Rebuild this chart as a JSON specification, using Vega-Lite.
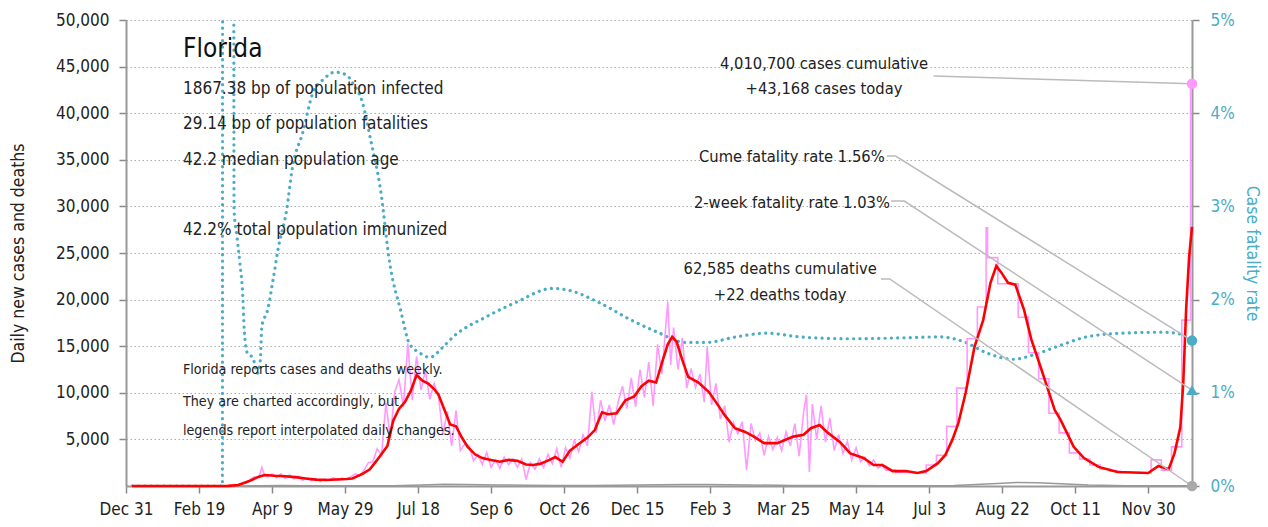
{
"$schema": "https://vega.github.io/schema/vega-lite/v6.json",
"width": 1066, "height": 466,
"autosize": {"type": "none"},
"padding": {"left": 126, "top": 20, "right": 76, "bottom": 41},
"background": "white",
"config": {"font": "DejaVu Sans Condensed, sans-serif", "view": {"stroke": null}},
"datasets": {
"red": [{"d":"2020-01-04","v":0},{"d":"2020-03-01","v":0},{"d":"2020-03-10","v":10},{"d":"2020-03-17","v":100},{"d":"2020-03-24","v":500},{"d":"2020-03-31","v":1000},{"d":"2020-04-04","v":1180},{"d":"2020-04-11","v":1100},{"d":"2020-04-18","v":1050},{"d":"2020-04-25","v":950},{"d":"2020-05-02","v":800},{"d":"2020-05-09","v":680},{"d":"2020-05-16","v":650},{"d":"2020-05-23","v":700},{"d":"2020-05-30","v":750},{"d":"2020-06-03","v":800},{"d":"2020-06-10","v":1300},{"d":"2020-06-15","v":1800},{"d":"2020-06-20","v":2800},{"d":"2020-06-27","v":4300},{"d":"2020-07-01","v":7000},{"d":"2020-07-05","v":8300},{"d":"2020-07-09","v":9000},{"d":"2020-07-13","v":10200},{"d":"2020-07-17","v":11900},{"d":"2020-07-21","v":11300},{"d":"2020-07-25","v":11000},{"d":"2020-07-29","v":10400},{"d":"2020-08-01","v":9800},{"d":"2020-08-05","v":8200},{"d":"2020-08-09","v":6600},{"d":"2020-08-13","v":6400},{"d":"2020-08-17","v":5200},{"d":"2020-08-21","v":4200},{"d":"2020-08-26","v":3400},{"d":"2020-08-31","v":3000},{"d":"2020-09-06","v":2800},{"d":"2020-09-12","v":2600},{"d":"2020-09-18","v":2800},{"d":"2020-09-24","v":2700},{"d":"2020-09-30","v":2300},{"d":"2020-10-05","v":2250},{"d":"2020-10-10","v":2400},{"d":"2020-10-16","v":2800},{"d":"2020-10-20","v":3100},{"d":"2020-10-25","v":2600},{"d":"2020-10-30","v":3800},{"d":"2020-11-05","v":4500},{"d":"2020-11-11","v":5200},{"d":"2020-11-16","v":6000},{"d":"2020-11-21","v":7900},{"d":"2020-11-25","v":7700},{"d":"2020-12-01","v":7800},{"d":"2020-12-07","v":9200},{"d":"2020-12-13","v":9600},{"d":"2020-12-18","v":10700},{"d":"2020-12-23","v":11300},{"d":"2020-12-28","v":11100},{"d":"2021-01-01","v":13200},{"d":"2021-01-05","v":15200},{"d":"2021-01-08","v":16000},{"d":"2021-01-11","v":15500},{"d":"2021-01-15","v":13500},{"d":"2021-01-19","v":11700},{"d":"2021-01-26","v":11100},{"d":"2021-02-02","v":10100},{"d":"2021-02-07","v":9000},{"d":"2021-02-13","v":7600},{"d":"2021-02-20","v":6200},{"d":"2021-02-27","v":5800},{"d":"2021-03-05","v":5300},{"d":"2021-03-12","v":4600},{"d":"2021-03-21","v":4600},{"d":"2021-04-01","v":5300},{"d":"2021-04-08","v":5500},{"d":"2021-04-13","v":6200},{"d":"2021-04-19","v":6550},{"d":"2021-04-24","v":5800},{"d":"2021-05-03","v":4700},{"d":"2021-05-10","v":3500},{"d":"2021-05-19","v":3000},{"d":"2021-05-26","v":2250},{"d":"2021-06-01","v":2250},{"d":"2021-06-08","v":1600},{"d":"2021-06-17","v":1600},{"d":"2021-06-25","v":1400},{"d":"2021-07-01","v":1600},{"d":"2021-07-09","v":2450},{"d":"2021-07-14","v":3300},{"d":"2021-07-19","v":5000},{"d":"2021-07-23","v":6750},{"d":"2021-07-28","v":10000},{"d":"2021-08-03","v":14900},{"d":"2021-08-09","v":17800},{"d":"2021-08-14","v":21800},{"d":"2021-08-18","v":23600},{"d":"2021-08-21","v":23000},{"d":"2021-08-26","v":21800},{"d":"2021-08-31","v":21600},{"d":"2021-09-06","v":18900},{"d":"2021-09-11","v":15700},{"d":"2021-09-18","v":12450},{"d":"2021-09-27","v":8150},{"d":"2021-10-01","v":7100},{"d":"2021-10-10","v":4200},{"d":"2021-10-17","v":3000},{"d":"2021-10-27","v":2050},{"d":"2021-11-09","v":1500},{"d":"2021-11-30","v":1400},{"d":"2021-12-07","v":2150},{"d":"2021-12-14","v":1800},{"d":"2021-12-18","v":3500},{"d":"2021-12-22","v":6300},{"d":"2021-12-24","v":11000},{"d":"2021-12-26","v":19000},{"d":"2021-12-28","v":24500},{"d":"2021-12-30","v":27800}],
"pink": [{"d":"2020-03-01","v":2},{"d":"2020-03-04","v":3},{"d":"2020-03-07","v":10},{"d":"2020-03-10","v":20},{"d":"2020-03-13","v":50},{"d":"2020-03-16","v":110},{"d":"2020-03-19","v":300},{"d":"2020-03-22","v":300},{"d":"2020-03-25","v":700},{"d":"2020-03-28","v":1000},{"d":"2020-03-31","v":900},{"d":"2020-04-02","v":2000},{"d":"2020-04-04","v":1100},{"d":"2020-04-06","v":1000},{"d":"2020-04-09","v":1300},{"d":"2020-04-12","v":900},{"d":"2020-04-15","v":1300},{"d":"2020-04-18","v":800},{"d":"2020-04-21","v":1200},{"d":"2020-04-24","v":750},{"d":"2020-04-27","v":1050},{"d":"2020-04-30","v":600},{"d":"2020-05-03","v":900},{"d":"2020-05-06","v":550},{"d":"2020-05-09","v":800},{"d":"2020-05-12","v":500},{"d":"2020-05-15","v":800},{"d":"2020-05-18","v":600},{"d":"2020-05-21","v":900},{"d":"2020-05-24","v":600},{"d":"2020-05-27","v":850},{"d":"2020-05-30","v":700},{"d":"2020-06-02","v":1000},{"d":"2020-06-05","v":1300},{"d":"2020-06-08","v":1100},{"d":"2020-06-11","v":1700},{"d":"2020-06-14","v":2500},{"d":"2020-06-17","v":2600},{"d":"2020-06-20","v":4000},{"d":"2020-06-23","v":3300},{"d":"2020-06-26","v":8900},{"d":"2020-06-29","v":5200},{"d":"2020-07-02","v":10100},{"d":"2020-07-05","v":11400},{"d":"2020-07-08","v":8500},{"d":"2020-07-11","v":15300},{"d":"2020-07-14","v":9200},{"d":"2020-07-17","v":13900},{"d":"2020-07-20","v":10300},{"d":"2020-07-23","v":12400},{"d":"2020-07-26","v":9300},{"d":"2020-07-29","v":11000},{"d":"2020-08-01","v":9600},{"d":"2020-08-04","v":5500},{"d":"2020-08-07","v":8000},{"d":"2020-08-10","v":4300},{"d":"2020-08-13","v":8100},{"d":"2020-08-16","v":3800},{"d":"2020-08-19","v":4500},{"d":"2020-08-22","v":4300},{"d":"2020-08-25","v":2700},{"d":"2020-08-28","v":3400},{"d":"2020-08-31","v":2300},{"d":"2020-09-03","v":3600},{"d":"2020-09-06","v":2000},{"d":"2020-09-09","v":2800},{"d":"2020-09-12","v":1900},{"d":"2020-09-15","v":3100},{"d":"2020-09-18","v":2300},{"d":"2020-09-21","v":2900},{"d":"2020-09-24","v":2000},{"d":"2020-09-27","v":2900},{"d":"2020-09-30","v":700},{"d":"2020-10-03","v":2500},{"d":"2020-10-06","v":1800},{"d":"2020-10-09","v":2900},{"d":"2020-10-12","v":2000},{"d":"2020-10-15","v":3400},{"d":"2020-10-18","v":2400},{"d":"2020-10-21","v":4000},{"d":"2020-10-24","v":2000},{"d":"2020-10-27","v":4100},{"d":"2020-10-30","v":3000},{"d":"2020-11-02","v":4900},{"d":"2020-11-05","v":3700},{"d":"2020-11-08","v":5500},{"d":"2020-11-11","v":4300},{"d":"2020-11-14","v":10100},{"d":"2020-11-17","v":5700},{"d":"2020-11-20","v":9200},{"d":"2020-11-23","v":7000},{"d":"2020-11-26","v":8700},{"d":"2020-11-29","v":6600},{"d":"2020-12-02","v":9000},{"d":"2020-12-05","v":10700},{"d":"2020-12-08","v":8300},{"d":"2020-12-11","v":11600},{"d":"2020-12-14","v":8500},{"d":"2020-12-17","v":12500},{"d":"2020-12-20","v":9500},{"d":"2020-12-23","v":13300},{"d":"2020-12-26","v":8600},{"d":"2020-12-29","v":15200},{"d":"2021-01-01","v":12000},{"d":"2021-01-05","v":19800},{"d":"2021-01-07","v":13000},{"d":"2021-01-09","v":17000},{"d":"2021-01-12","v":12500},{"d":"2021-01-15","v":15900},{"d":"2021-01-18","v":10500},{"d":"2021-01-21","v":12600},{"d":"2021-01-24","v":10600},{"d":"2021-01-27","v":12000},{"d":"2021-01-30","v":9000},{"d":"2021-02-01","v":14900},{"d":"2021-02-04","v":8700},{"d":"2021-02-07","v":11000},{"d":"2021-02-10","v":7200},{"d":"2021-02-13","v":8600},{"d":"2021-02-16","v":4700},{"d":"2021-02-19","v":6800},{"d":"2021-02-22","v":5600},{"d":"2021-02-25","v":6900},{"d":"2021-02-28","v":1700},{"d":"2021-03-03","v":6700},{"d":"2021-03-06","v":4900},{"d":"2021-03-09","v":5700},{"d":"2021-03-12","v":3300},{"d":"2021-03-15","v":5300},{"d":"2021-03-18","v":3900},{"d":"2021-03-21","v":5200},{"d":"2021-03-24","v":3800},{"d":"2021-03-27","v":5800},{"d":"2021-03-30","v":4300},{"d":"2021-04-02","v":6700},{"d":"2021-04-05","v":3200},{"d":"2021-04-08","v":7900},{"d":"2021-04-10","v":9800},{"d":"2021-04-12","v":1500},{"d":"2021-04-14","v":8800},{"d":"2021-04-17","v":5000},{"d":"2021-04-20","v":8600},{"d":"2021-04-23","v":4700},{"d":"2021-04-26","v":7300},{"d":"2021-04-29","v":3800},{"d":"2021-05-02","v":5500},{"d":"2021-05-05","v":3500},{"d":"2021-05-08","v":4800},{"d":"2021-05-11","v":2800},{"d":"2021-05-14","v":4100},{"d":"2021-05-17","v":2600},{"d":"2021-05-20","v":3100},{"d":"2021-05-23","v":2200},{"d":"2021-05-26","v":2800},{"d":"2021-05-29","v":1900},{"d":"2021-06-01","v":2300},{"d":"2021-06-03","v":1700}],
"pinkw": [{"d":"2021-06-03","v":1700},{"d":"2021-06-10","v":1450},{"d":"2021-06-17","v":1450},{"d":"2021-06-24","v":1400},{"d":"2021-07-01","v":2250},{"d":"2021-07-08","v":3300},{"d":"2021-07-15","v":6400},{"d":"2021-07-22","v":10500},{"d":"2021-07-29","v":15800},{"d":"2021-08-05","v":19200},{"d":"2021-08-11","v":27700},{"d":"2021-08-12","v":24500},{"d":"2021-08-19","v":21700},{"d":"2021-08-26","v":21700},{"d":"2021-09-02","v":18100},{"d":"2021-09-09","v":14300},{"d":"2021-09-16","v":11500},{"d":"2021-09-23","v":7800},{"d":"2021-09-30","v":5700},{"d":"2021-10-07","v":3550},{"d":"2021-10-14","v":2900},{"d":"2021-10-21","v":2250},{"d":"2021-10-28","v":1800},{"d":"2021-11-04","v":1600},{"d":"2021-11-11","v":1500},{"d":"2021-11-18","v":1450},{"d":"2021-11-25","v":1400},{"d":"2021-12-02","v":2800},{"d":"2021-12-09","v":1700},{"d":"2021-12-16","v":4200},{"d":"2021-12-23","v":17800},{"d":"2021-12-29","v":43168},{"d":"2021-12-30","v":43168}],
"deaths": [{"d":"2020-01-04","v":0},{"d":"2020-03-15","v":1},{"d":"2020-04-01","v":20},{"d":"2020-04-15","v":50},{"d":"2020-05-01","v":40},{"d":"2020-06-01","v":35},{"d":"2020-07-01","v":40},{"d":"2020-07-20","v":120},{"d":"2020-08-05","v":180},{"d":"2020-08-20","v":150},{"d":"2020-09-10","v":100},{"d":"2020-10-01","v":90},{"d":"2020-10-20","v":60},{"d":"2020-11-15","v":60},{"d":"2020-12-15","v":100},{"d":"2021-01-15","v":160},{"d":"2021-02-01","v":170},{"d":"2021-03-01","v":110},{"d":"2021-04-01","v":60},{"d":"2021-05-01","v":50},{"d":"2021-06-01","v":40},{"d":"2021-07-01","v":30},{"d":"2021-07-20","v":60},{"d":"2021-08-15","v":250},{"d":"2021-09-01","v":380},{"d":"2021-09-15","v":350},{"d":"2021-10-01","v":250},{"d":"2021-10-20","v":120},{"d":"2021-11-15","v":40},{"d":"2021-12-01","v":20},{"d":"2021-12-30","v":22}],
"cfr": [{"d":"2019-12-31","r":0},{"d":"2020-03-06","r":0},{"d":"2020-03-07","r":1.0},{"d":"2020-03-12","r":1.0},{"d":"2020-03-14","r":0.0296},{"d":"2020-03-16","r":0.0267},{"d":"2020-03-18","r":0.0239},{"d":"2020-03-20","r":0.0203},{"d":"2020-03-21","r":0.0167},{"d":"2020-03-23","r":0.0143},{"d":"2020-03-27","r":0.0137},{"d":"2020-03-30","r":0.0121},{"d":"2020-04-01","r":0.0135},{"d":"2020-04-02","r":0.0171},{"d":"2020-04-06","r":0.0189},{"d":"2020-04-10","r":0.0224},{"d":"2020-04-13","r":0.0253},{"d":"2020-04-19","r":0.0296},{"d":"2020-04-23","r":0.0342},{"d":"2020-04-30","r":0.0379},{"d":"2020-05-07","r":0.0422},{"d":"2020-05-14","r":0.0436},{"d":"2020-05-22","r":0.0444},{"d":"2020-05-30","r":0.0441},{"d":"2020-06-03","r":0.0433},{"d":"2020-06-10","r":0.0411},{"d":"2020-06-16","r":0.0368},{"d":"2020-06-22","r":0.0321},{"d":"2020-06-29","r":0.0235},{"d":"2020-07-06","r":0.0189},{"d":"2020-07-12","r":0.0153},{"d":"2020-07-19","r":0.0143},{"d":"2020-07-26","r":0.0138},{"d":"2020-08-04","r":0.0149},{"d":"2020-08-11","r":0.0160},{"d":"2020-09-02","r":0.0181},{"d":"2020-09-23","r":0.0197},{"d":"2020-10-18","r":0.0212},{"d":"2020-10-29","r":0.0210},{"d":"2020-11-20","r":0.0196},{"d":"2020-12-11","r":0.0178},{"d":"2020-12-29","r":0.0165},{"d":"2021-01-17","r":0.0154},{"d":"2021-01-31","r":0.0154},{"d":"2021-02-21","r":0.0160},{"d":"2021-03-14","r":0.0164},{"d":"2021-04-05","r":0.0160},{"d":"2021-05-10","r":0.0158},{"d":"2021-06-15","r":0.0159},{"d":"2021-07-10","r":0.0160},{"d":"2021-07-28","r":0.0154},{"d":"2021-08-11","r":0.0143},{"d":"2021-08-30","r":0.0136},{"d":"2021-09-13","r":0.0141},{"d":"2021-10-01","r":0.0151},{"d":"2021-10-19","r":0.0160},{"d":"2021-11-12","r":0.0164},{"d":"2021-12-08","r":0.0165},{"d":"2021-12-19","r":0.0164},{"d":"2021-12-30","r":0.0156}],
"conn": [{"g":"c","d":"2021-07-06","v":43991},{"g":"c","d":"2021-12-30","v":43168},{"g":"f","d":"2021-06-04","v":35408},{"g":"f","d":"2021-06-10","v":35408},{"g":"f","d":"2021-12-30","v":15600},{"g":"w","d":"2021-06-07","v":30579},{"g":"w","d":"2021-06-16","v":30579},{"g":"w","d":"2021-12-30","v":10300},{"g":"x","d":"2021-05-31","v":22210},{"g":"x","d":"2021-06-06","v":22210},{"g":"x","d":"2021-12-30","v":0}],
"title": [{"d":"2020-02-08","v":46835,"t":"Florida"}],
"info": [{"d":"2020-02-08","v":42543,"t":"1867.38 bp of population infected"},{"d":"2020-02-08","v":38788,"t":"29.14 bp of population fatalities"},{"d":"2020-02-08","v":35032,"t":"42.2 median population age"},{"d":"2020-02-08","v":27521,"t":"42.2% total population immunized"}],
"notes": [{"d":"2020-02-08","v":12446,"t":"Florida reports cases and deaths weekly."},{"d":"2020-02-08","v":9066,"t":"They are charted accordingly, but"},{"d":"2020-02-08","v":5848,"t":"legends report interpolated daily changes."}],
"ann": [{"d":"2021-04-22","v":45279,"t":"4,010,700 cases cumulative"},{"d":"2021-04-22","v":42543,"t":"+43,168 cases today"},{"d":"2021-03-31","v":35247,"t":"Cume fatality rate 1.56%"},{"d":"2021-03-31","v":30418,"t":"2-week fatality rate 1.03%"},{"d":"2021-03-23","v":23230,"t":"62,585 deaths cumulative"},{"d":"2021-03-23","v":20547,"t":"+22 deaths today"}],
"pinkpt": [{"d":"2021-12-30","v":43168}],
"graypt": [{"d":"2021-12-30","v":0}],
"cfrc": [{"d":"2021-12-30","r":0.0156}],
"cfrt": [{"d":"2021-12-30","r":0.0103}]
},
"encoding": {
"x": {"field": "d", "type": "temporal",
 "scale": {"type": "utc", "domain": [1577750400000, 1640822400000]},
 "axis": {"values": [1577750400000,1582070400000,1586390400000,1590710400000,1595030400000,1599350400000,1603670400000,1607990400000,1612310400000,1616630400000,1620950400000,1625270400000,1629590400000,1633910400000,1638230400000],
  "labelExpr": "utcFormat(datum.value, '%b %-d')", "title": null, "grid": false,
  "labelFontSize": 17, "labelColor": "#222", "labelPadding": 8, "labelFlush": false, "labelOverlap": false,
  "tickSize": 7, "tickColor": "#888", "tickWidth": 1.5, "domainColor": "#999", "domainWidth": 2}}
},
"layer": [
 {"data": {"name": "cfr"},
  "mark": {"type": "line", "color": "#4bacc6", "strokeWidth": 3.2, "strokeDash": [0.1, 6.2], "strokeCap": "round", "interpolate": "monotone", "clip": true},
  "encoding": {"y": {"field": "r", "type": "quantitative", "scale": {"domain": [0, 0.05], "nice": false},
   "axis": {"orient": "right", "values": [0, 0.01, 0.02, 0.03, 0.04, 0.05], "format": ".0%", "grid": false,
    "labelFontSize": 17, "labelColor": "#4bacc6", "labelPadding": 11, "tickSize": 7, "tickColor": "#888", "tickWidth": 1.5,
    "domainColor": "#999", "domainWidth": 2, "title": "Case fatality rate", "titleFontSize": 17.5, "titleFontWeight": "normal", "titleColor": "#4bacc6", "titlePadding": 8}}}
 },
 {"encoding": {"y": {"field": "v", "type": "quantitative", "scale": {"domain": [0, 50000], "nice": false},
   "axis": {"orient": "left", "values": [5000,10000,15000,20000,25000,30000,35000,40000,45000,50000], "format": ",d",
    "grid": true, "gridDash": [1.5, 2.5], "gridColor": "#aaa", "gridWidth": 1,
    "labelFontSize": 17, "labelColor": "#222", "labelPadding": 10, "tickSize": 7, "tickColor": "#888", "tickWidth": 1.5,
    "domainColor": "#999", "domainWidth": 2, "title": "Daily new cases and deaths", "titleFontSize": 17.5, "titleFontWeight": "normal", "titleColor": "#222", "titlePadding": 28}}},
  "layer": [
   {"data": {"name": "deaths"}, "mark": {"type": "line", "color": "#999", "strokeWidth": 1.5}},
   {"data": {"name": "pink"}, "mark": {"type": "line", "color": "#ff99ff", "strokeWidth": 1.6}},
   {"data": {"name": "pinkw"}, "mark": {"type": "line", "color": "#ff99ff", "strokeWidth": 1.6, "interpolate": "step-after"}},
   {"data": {"name": "red"}, "mark": {"type": "line", "color": "#ff0000", "strokeWidth": 2.6}},
   {"data": {"name": "conn"}, "mark": {"type": "line", "color": "#bbb", "strokeWidth": 1.5}, "encoding": {"detail": {"field": "g"}}},
   {"data": {"name": "pinkpt"}, "mark": {"type": "point", "shape": "circle", "filled": true, "size": 110, "color": "#ff99ff", "opacity": 1}},
   {"data": {"name": "graypt"}, "mark": {"type": "point", "shape": "circle", "filled": true, "size": 110, "color": "#aaa", "opacity": 1}},
   {"data": {"name": "title"}, "mark": {"type": "text", "align": "left", "baseline": "middle", "fontSize": 26, "color": "#111"}, "encoding": {"text": {"field": "t"}}},
   {"data": {"name": "info"}, "mark": {"type": "text", "align": "left", "baseline": "middle", "fontSize": 17, "color": "#222"}, "encoding": {"text": {"field": "t"}}},
   {"data": {"name": "notes"}, "mark": {"type": "text", "align": "left", "baseline": "middle", "fontSize": 14.2, "color": "#222"}, "encoding": {"text": {"field": "t"}}},
   {"data": {"name": "ann"}, "mark": {"type": "text", "align": "center", "baseline": "middle", "fontSize": 16.4, "color": "#222"}, "encoding": {"text": {"field": "t"}}}
  ]
 },
 {"encoding": {"y": {"field": "r", "type": "quantitative", "scale": {"domain": [0, 0.05], "nice": false}, "axis": null}},
  "layer": [
   {"data": {"name": "cfrc"}, "mark": {"type": "point", "shape": "circle", "filled": true, "size": 110, "color": "#4bacc6", "opacity": 1}},
   {"data": {"name": "cfrt"}, "mark": {"type": "point", "shape": "triangle-up", "filled": true, "size": 130, "color": "#4bacc6", "opacity": 1}}
  ]
 }
],
"resolve": {"scale": {"y": "independent"}}
}
